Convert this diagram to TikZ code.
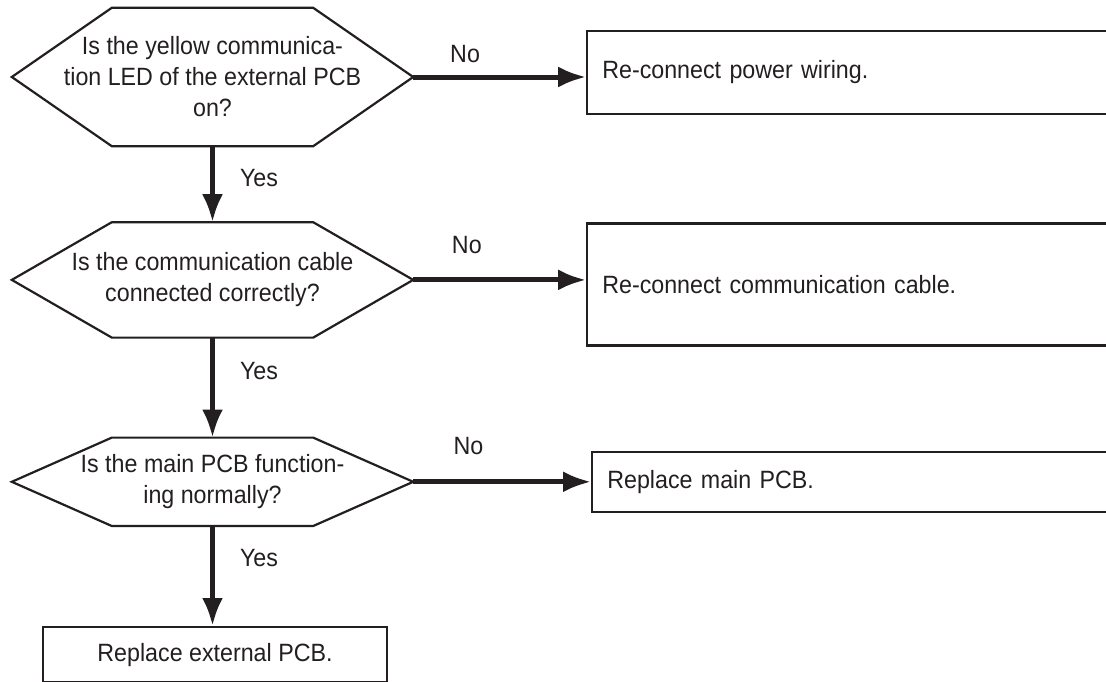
\documentclass[tikz,border=0pt]{standalone}
\usepackage{fontspec}
\setmainfont{Liberation Sans}[FakeStretch=0.93]
\usetikzlibrary{arrows.meta,positioning}
\definecolor{ink}{RGB}{35,31,32}
\tikzset{
  decision/.style={align=center, minimum width=401pt, inner sep=0pt},
  action/.style={draw=ink, line width=2.2pt, text width=530pt, align=left, inner xsep=15pt, inner ysep=0pt},
  final/.style={draw=ink, line width=2.2pt, minimum width=344pt, minimum height=55pt, inner sep=0pt},
  hexline/.style={draw=ink, line width=2.2pt, line join=miter},
  arr/.style={-{Latex[length=28pt,width=21pt]}, line width=5pt, draw=ink},
  lbl/.style={inner sep=0pt}}

\begin{document}
\begin{tikzpicture}[x=1pt, y=-1pt, every node/.style={font=\fontsize{25}{31}\selectfont, text=ink}]
  \useasboundingbox (0,0) rectangle (1106,681);
  \clip (0,0) rectangle (1106,681);
  % questions
  \node[decision, minimum height=138pt] (q1) at (212.5,77) {Is the yellow communica-\\tion LED of the external PCB\\on?};
  \node[decision, minimum height=115pt, below=76pt of q1] (q2) {Is the communication cable\\connected correctly?};
  \node[decision, minimum height=88pt, below=100pt of q2] (q3) {Is the main PCB function-\\ing normally?};
  \node[final, below=100pt of q3, xshift=2.5pt] (ext) {Replace external PCB.};
  \foreach \q in {q1,q2,q3}
    \draw[hexline] (\q.west) -- ([xshift=100pt]\q.north west) -- ([xshift=-100pt]\q.north east)
      -- (\q.east) -- ([xshift=-100pt]\q.south east) -- ([xshift=100pt]\q.south west) -- cycle;
  % actions
  \node[action, minimum height=83pt, right=173pt of q1, yshift=4.5pt] (pw) {Re-connect power wiring.};
  \node[action, minimum height=122pt, right=173pt of q2, yshift=-4.5pt] (cc) {Re-connect communication cable.};
  \node[action, minimum height=60pt, right=178pt of q3] (mp) {Replace main PCB.};
  % yes
  \draw[arr] (q1) -- node[lbl, pos=0.42, right=25pt] {Yes} (q2);
  \draw[arr] (q2) -- node[lbl, pos=0.33, right=25pt] {Yes} (q3);
  \draw[arr] (q3.south) -- node[lbl, pos=0.32, right=25pt] {Yes} (q3.south |- ext.north);
  % no
  \draw[arr] (q1.east) -- node[lbl, pos=0.3, above=12pt] {No} (q1.east -| pw.west);
  \draw[arr] (q2.east) -- node[lbl, pos=0.31, above=24pt] {No} (q2.east -| cc.west);
  \draw[arr] (q3.east) -- node[lbl, pos=0.31, above=25pt] {No} (q3.east -| mp.west);
\end{tikzpicture}
\end{document}
